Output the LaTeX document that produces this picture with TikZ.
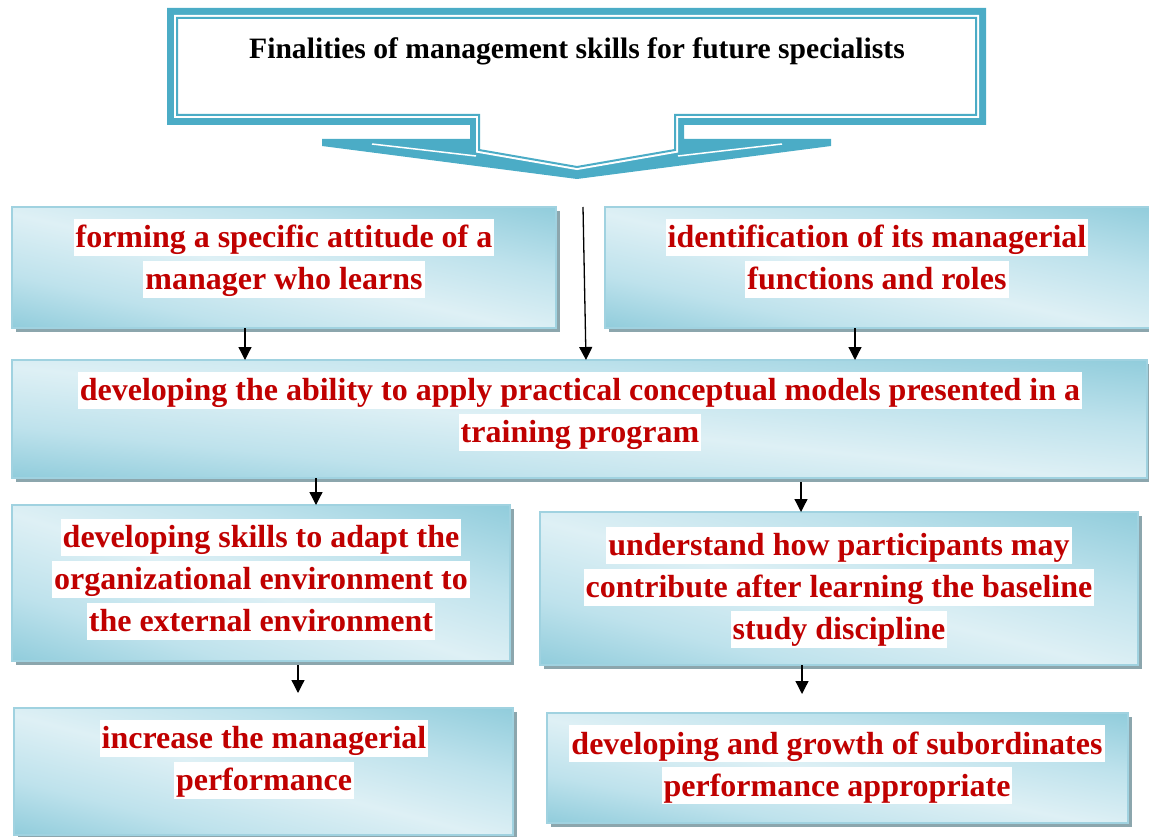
\documentclass[tikz,border=0pt]{standalone}
\usepackage{fontspec}
\setmainfont{Liberation Serif}
\usetikzlibrary{arrows.meta,shadows}
\definecolor{teal1}{RGB}{75,172,198}
\definecolor{boxdark}{RGB}{146,205,220}
\definecolor{boxmid}{RGB}{190,226,236}
\definecolor{boxlight}{RGB}{222,240,245}
\definecolor{boxborder}{RGB}{160,210,224}
\definecolor{shadowc}{RGB}{140,166,173}
\definecolor{redtxt}{RGB}{192,0,0}
\pgfdeclarehorizontalshading{boxshade}{100bp}{color(0bp)=(boxdark); color(15bp)=(boxdark); color(30bp)=(boxmid); color(48bp)=(boxlight); color(66bp)=(boxmid); color(85bp)=(boxdark); color(100bp)=(boxdark)}
\newcommand{\hlt}[1]{{\setlength{\fboxsep}{0pt}\colorbox{white}{\hspace{2pt}\rule[-8pt]{0pt}{37pt}#1\hspace{2pt}}}}
\tikzset{
  box/.style={draw=boxborder, line width=1.5pt, fill=boxdark,
    drop shadow={shadow xshift=4pt, shadow yshift=-4pt, fill=shadowc, opacity=1},
    inner sep=0pt, outer sep=0pt},
  boxline/.style={draw=boxborder, line width=1.5pt},
  txt/.style={font=\bfseries\fontsize{32}{42}\selectfont, text=redtxt, align=center, inner sep=0pt},
  arr/.style={-{Triangle[length=13pt,width=13pt]}, line width=1.3pt, black},
}
\newcommand{\gbox}[5]{%
  \node[box, minimum width=#4pt, minimum height=#5pt] (#1) at (#2,#3) {};
  \begin{scope}
    \clip (#1.south west) rectangle (#1.north east);
    \begin{scope}[transform canvas={shift={(#1.center)}, xscale=#4/100, yscale=#5/100}]
      \shade[shading=boxshade, shading angle=45] (-50,-50) rectangle (50,50);
    \end{scope}
  \end{scope}
  \draw[boxline] (#1.south west) rectangle (#1.north east);
}
\begin{document}
\begin{tikzpicture}[x=1pt,y=-1pt]
\useasboundingbox (0,0) rectangle (1149,837);
% callout
\fill[teal1] (167,8) -- (986,8) -- (986,125) -- (684,125) -- (684,139) -- (831,139) -- (831,146) -- (577,179) -- (322,146) -- (322,139) -- (470,139) -- (470,125) -- (167,125) -- cycle;
\draw[white, line width=6pt, fill=white] (177,18) -- (976,18) -- (976,115) -- (675,115) -- (675,150) -- (577,167) -- (479,150) -- (479,115) -- (177,115) -- cycle;
\draw[teal1, line width=2pt] (177,18) -- (976,18) -- (976,115) -- (675,115) -- (675,150) -- (577,167) -- (479,150) -- (479,115) -- (177,115) -- cycle;
\draw[white, line width=1.5pt] (372,144) -- (476,156);
\draw[white, line width=1.5pt] (782,144) -- (678,156);
\node[font=\bfseries\fontsize{29.6}{34}\selectfont, inner sep=0pt] (title) at (577,51) {Finalities of management skills for future specialists};
% boxes
\gbox{A}{284}{267.5}{544}{121}
\gbox{B}{879}{267.5}{548}{121}
\gbox{C}{579.5}{419}{1135}{118}
\gbox{D}{261}{583}{498}{156}
\gbox{E}{839}{588.5}{598}{153}
\gbox{F}{263.5}{771.5}{499}{127}
\gbox{G}{837.5}{768}{581}{110}
% texts
\node[txt] (At) at (284,258.5) {\hlt{forming a specific attitude of a}\\\hlt{manager who learns}};
\node[txt] (Bt) at (877,258.5) {\hlt{identification of its managerial}\\\hlt{functions and roles}};
\node[txt] (Ct) at (580,411) {\hlt{developing the ability to apply practical conceptual models presented in a}\\\hlt{training program}};
\node[txt] (Dt) at (261,579) {\hlt{developing skills to adapt the}\\\hlt{organizational environment to}\\\hlt{the external environment}};
\node[txt] (Et) at (839,587) {\hlt{understand how participants may}\\\hlt{contribute after learning the baseline}\\\hlt{study discipline}};
\node[txt] (Ft) at (264,759) {\hlt{increase the managerial}\\\hlt{performance}};
\node[txt] (Gt) at (837,764.5) {\hlt{developing and growth of subordinates}\\\hlt{performance appropriate}};
% connectors
\path (A.south) ++(-39,0) coordinate (a1);
\draw[arr] (a1) -- (a1 |- C.north);
\path (B.south) ++(-24,0) coordinate (b1);
\draw[arr] (b1) -- (b1 |- C.north);
\coordinate (top) at (583,207);
\draw[arr] (top) -- ([xshift=6.5pt]C.north);
\path (C.south) ++(-263.5,0) coordinate (c1);
\draw[arr] (c1) -- (c1 |- D.north);
\path (C.south) ++(221.5,4) coordinate (c2);
\draw[arr] (c2) -- (c2 |- E.north);
\path (D.south) ++(37,4) coordinate (d1);
\draw[arr] (d1) -- ++(0,28);
\path (E.south) ++(-37,0) coordinate (e1);
\draw[arr] (e1) -- ++(0,29);
\end{tikzpicture}
\end{document}
